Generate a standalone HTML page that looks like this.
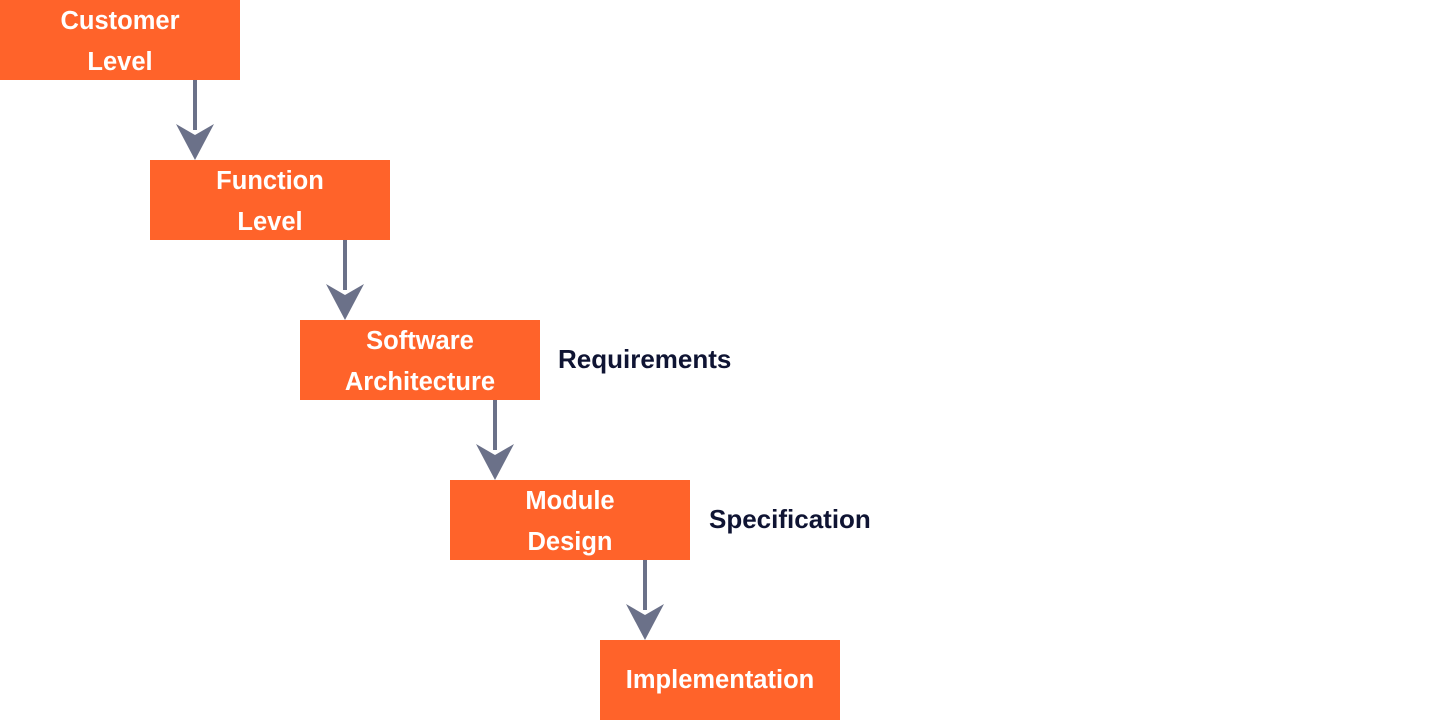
<!DOCTYPE html>
<html><head><meta charset="utf-8"><style>
body{margin:0;width:1440px;height:720px;background:#fff;position:relative;overflow:hidden;font-family:"Liberation Sans",sans-serif}
.b{position:absolute;width:240px;height:80px;background:#FF632A;color:#fff;font-weight:bold;font-size:25.5px;display:flex;align-items:center;justify-content:center;text-align:center;line-height:41px;padding-top:3px;box-sizing:border-box}
.l{position:absolute;color:#0F1433;font-weight:bold;font-size:26px;line-height:30px}
svg{position:absolute;left:0;top:0}
</style></head><body>
<svg width="1440" height="720">
<g fill="#6B7189">
<rect x="193" y="80" width="4" height="50"/><polygon points="176,124 195,135 214,124 195,160"/>
<rect x="343" y="240" width="4" height="50"/><polygon points="326,284 345,295 364,284 345,320"/>
<rect x="493" y="400" width="4" height="50"/><polygon points="476,444 495,455 514,444 495,480"/>
<rect x="643" y="560" width="4" height="50"/><polygon points="626,604 645,615 664,604 645,640"/>
</g></svg>
<div class="b" style="left:0;top:0">Customer<br>Level</div>
<div class="b" style="left:150px;top:160px">Function<br>Level</div>
<div class="b" style="left:300px;top:320px">Software<br>Architecture</div>
<div class="b" style="left:450px;top:480px">Module<br>Design</div>
<div class="b" style="left:600px;top:640px;padding-top:0">Implementation</div>
<div class="l" style="left:558px;top:344px">Requirements</div>
<div class="l" style="left:709px;top:504px">Specification</div>
</body></html>
